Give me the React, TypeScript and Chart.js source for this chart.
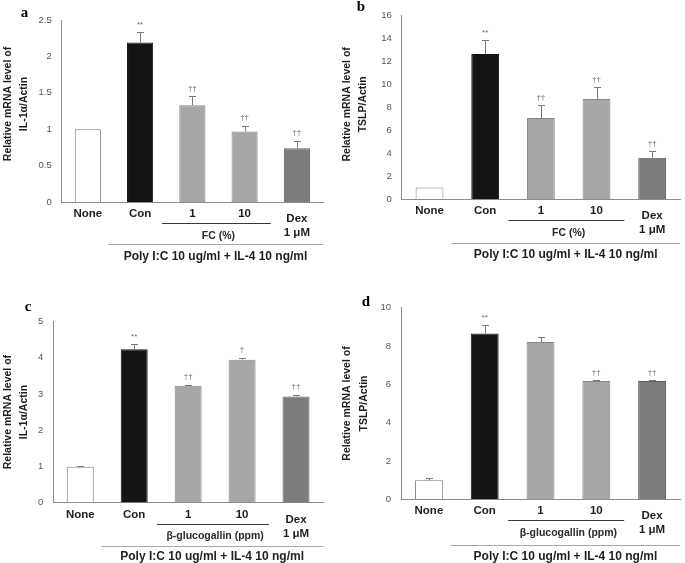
import React, { useEffect, useRef } from "react";
import { Chart, registerables } from "chart.js";

Chart.register(...registerables);

// ---------- data ----------
const categories = ["None", "Con", "1", "10", "Dex"];
const dexLabel = ["Dex", "1 μM"];
const groupFC = "FC (%)";
const groupBG = "β-glucogallin (ppm)";
const treatmentLabel = "Poly I:C 10 ug/ml + IL-4 10 ng/ml";
const titleLine1 = "Relative mRNA level of";
const titleIL = "IL-1α/Actin";
const titleTSLP = "TSLP/Actin";

const valuesA = [1.0, 2.19, 1.33, 0.97, 0.74];
const errorsA = [0.0, 0.14, 0.12, 0.08, 0.1];
const marksA = ["", "**", "††", "††", "††"];

const valuesB = [1.0, 12.65, 7.07, 8.72, 3.6];
const errorsB = [0.0, 1.2, 1.1, 1.03, 0.55];
const marksB = ["", "**", "††", "††", "††"];

const valuesC = [0.99, 4.24, 3.23, 3.95, 2.93];
const errorsC = [0.02, 0.13, 0.02, 0.05, 0.05];
const marksC = ["", "**", "††", "†", "††"];

const valuesD = [1.0, 8.65, 8.21, 6.18, 6.18];
const errorsD = [0.1, 0.43, 0.26, 0.03, 0.03];
const marksD = ["", "**", "", "††", "††"];

// ---------- styles ----------
const fills = ["#ffffff", "#141414", "#a6a6a6", "#a6a6a6", "#7c7c7c"];
const borders = ["#808080", "#141414", "#858585", "#858585", "#5e5e5e"];
const SANS = "'Liberation Sans', Arial, sans-serif";
const SERIF = "'Liberation Serif', 'Times New Roman', serif";

type Panel = {
  letter: string;
  values: number[];
  errors: number[];
  marks: string[];
  max: number;
  step: number;
  title2: string;
  group: string;
  canvas: { left: number; top: number; width: number; height: number };
  area: { left: number; top: number; right: number; bottom: number };
  titleX: [number, number];
  titleDy: number;
  letterPos: [number, number];
  polyDy: [number, number];
};

const panels: Panel[] = [
  {
    letter: "a", values: valuesA, errors: errorsA, marks: marksA, max: 2.5, step: 0.5,
    title2: titleIL, group: groupFC,
    canvas: { left: 0, top: 0, width: 340, height: 280 },
    area: { left: 61.7, top: 20, right: 323, bottom: 202 },
    titleX: [-53.7, -37.9], titleDy: -7, letterPos: [24.5, 16.7], polyDy: [42, 55],
  },
  {
    letter: "b", values: valuesB, errors: errorsB, marks: marksB, max: 16, step: 2,
    title2: titleTSLP, group: groupFC,
    canvas: { left: 338, top: 0, width: 347, height: 280 },
    area: { left: 401.7, top: 6.7, right: 680, bottom: 199 },
    titleX: [-54.7, -38.2], titleDy: -3, letterPos: [23, 10.7], polyDy: [43.5, 56],
  },
  {
    letter: "c", values: valuesC, errors: errorsC, marks: marksC, max: 5, step: 1,
    title2: titleIL, group: groupBG,
    canvas: { left: 0, top: 280, width: 340, height: 283 },
    area: { left: 53.3, top: 321.7, right: 323, bottom: 502.5 },
    titleX: [-45.3, -29.3], titleDy: 0, letterPos: [28, 30.7], polyDy: [43, 54],
  },
  {
    letter: "d", values: valuesD, errors: errorsD, marks: marksD, max: 10, step: 2,
    title2: titleTSLP, group: groupBG,
    canvas: { left: 338, top: 280, width: 347, height: 283 },
    area: { left: 401, top: 307.7, right: 680, bottom: 499.3 },
    titleX: [-54, -37], titleDy: 0, letterPos: [28, 25.7], polyDy: [45.5, 57],
  },
];

function makeAnnotations(p: Panel) {
  return {
    id: "annot-" + p.letter,
    afterDraw(chart: any) {
      const ctx = chart.ctx as CanvasRenderingContext2D;
      const xs = chart.scales.x;
      const ys = chart.scales.y;
      const area = chart.chartArea;
      const step = xs.getPixelForValue(1) - xs.getPixelForValue(0);
      ctx.save();

      // error bars + significance marks
      p.values.forEach((v, i) => {
        const cx = xs.getPixelForValue(i);
        const e = p.errors[i];
        const yTop = ys.getPixelForValue(v + e);
        if (e > 0) {
          const y0 = ys.getPixelForValue(v);
          ctx.strokeStyle = "#7a7a7a";
          ctx.lineWidth = 1;
          ctx.beginPath();
          ctx.moveTo(Math.round(cx) + 0.5, y0);
          ctx.lineTo(Math.round(cx) + 0.5, Math.round(yTop) + 0.5);
          ctx.moveTo(Math.round(cx) - 3, Math.round(yTop) + 0.5);
          ctx.lineTo(Math.round(cx) + 4, Math.round(yTop) + 0.5);
          ctx.stroke();
        }
        if (p.marks[i]) {
          ctx.fillStyle = "#6a6a6a";
          ctx.font = `8px ${SANS}`;
          ctx.textAlign = "center";
          ctx.textBaseline = "middle";
          ctx.fillText(p.marks[i], cx, yTop - 8);
        }
      });

      // category labels
      ctx.fillStyle = "#1e1e1e";
      ctx.font = `bold 11.5px ${SANS}`;
      ctx.textAlign = "center";
      ctx.textBaseline = "middle";
      categories.forEach((c, i) => {
        const cx = xs.getPixelForValue(i);
        if (i === 4) {
          ctx.fillText(dexLabel[0], cx, area.bottom + 17);
          ctx.fillText(dexLabel[1], cx, area.bottom + 31);
        } else {
          ctx.fillText(c, cx, area.bottom + 12);
        }
      });

      // group bracket
      const gx0 = xs.getPixelForValue(2) - 0.58 * step;
      const gx1 = xs.getPixelForValue(3) + 0.5 * step;
      ctx.strokeStyle = "#3a3a3a";
      ctx.lineWidth = 1;
      ctx.beginPath();
      ctx.moveTo(gx0, Math.round(area.bottom + 21) + 0.5);
      ctx.lineTo(gx1, Math.round(area.bottom + 21) + 0.5);
      ctx.stroke();
      ctx.font = `bold 10.5px ${SANS}`;
      ctx.fillStyle = "#2a2a2a";
      ctx.fillText(p.group, (xs.getPixelForValue(2) + xs.getPixelForValue(3)) / 2, area.bottom + 34);

      // treatment line
      const px0 = (xs.getPixelForValue(0) + xs.getPixelForValue(1)) / 2 - 6;
      const px1 = area.right;
      ctx.strokeStyle = "#a8a8a8";
      ctx.beginPath();
      ctx.moveTo(px0, Math.round(area.bottom + p.polyDy[0]) + 0.5);
      ctx.lineTo(px1, Math.round(area.bottom + p.polyDy[0]) + 0.5);
      ctx.stroke();
      ctx.font = `bold 12px ${SANS}`;
      ctx.fillStyle = "#1e1e1e";
      ctx.fillText(treatmentLabel, (px0 + px1) / 2, area.bottom + p.polyDy[1]);

      // y title
      const cy = (area.top + area.bottom) / 2 + p.titleDy;
      ctx.font = `bold 10.5px ${SANS}`;
      ctx.fillStyle = "#1e1e1e";
      [titleLine1, p.title2].forEach((t, k) => {
        ctx.save();
        ctx.translate(area.left + p.titleX[k], cy);
        ctx.rotate(-Math.PI / 2);
        ctx.fillText(t, 0, 0);
        ctx.restore();
      });

      // panel letter
      ctx.font = `bold 15px ${SERIF}`;
      ctx.fillStyle = "#000";
      ctx.textBaseline = "alphabetic";
      ctx.fillText(p.letter, p.letterPos[0], p.letterPos[1]);

      ctx.restore();
    },
  };
}

function PanelChart({ p }: { p: Panel }) {
  const ref = useRef<HTMLCanvasElement | null>(null);
  useEffect(() => {
    if (!ref.current) return;
    const c = p.canvas;
    const a = p.area;
    const yWidth = a.left - c.left;
    const xHeight = c.top + c.height - a.bottom;
    const chart = new Chart(ref.current, {
      type: "bar",
      data: {
        labels: categories,
        datasets: [
          {
            data: p.values,
            backgroundColor: fills,
            borderColor: borders,
            borderWidth: 1,
            barPercentage: 0.5,
            categoryPercentage: 1,
          },
        ],
      },
      options: {
        responsive: false,
        animation: false,
        devicePixelRatio: 1,
        layout: {
          padding: { left: 0, top: a.top - c.top, right: c.left + c.width - a.right, bottom: 0 },
        },
        plugins: { legend: { display: false }, tooltip: { enabled: false } },
        scales: {
          x: {
            grid: { display: false, drawTicks: false },
            border: { display: true, color: "#8c8c8c", width: 1 },
            ticks: { display: false },
            afterFit: (s: any) => { s.height = xHeight; },
          },
          y: {
            min: 0,
            max: p.max,
            grid: { display: false, drawTicks: false },
            border: { display: true, color: "#8c8c8c", width: 1 },
            ticks: {
              stepSize: p.step,
              padding: 10,
              color: "#555555",
              font: { family: SANS, size: 9.5 },
              callback: (v: any) => String(Math.round(Number(v) * 10) / 10),
            },
            afterFit: (s: any) => { s.width = yWidth; },
          },
        },
      },
      plugins: [makeAnnotations(p)],
    });
    return () => chart.destroy();
  }, [p]);
  const c = p.canvas;
  return (
    <canvas
      ref={ref}
      width={c.width}
      height={c.height}
      style={{ position: "absolute", left: c.left, top: c.top, width: c.width, height: c.height }}
    />
  );
}

export default function App() {
  return (
    <div style={{ position: "fixed", left: 0, top: 0, width: 685, height: 563, background: "#ffffff", overflow: "hidden" }}>
      {panels.map((p) => (
        <PanelChart key={p.letter} p={p} />
      ))}
    </div>
  );
}
